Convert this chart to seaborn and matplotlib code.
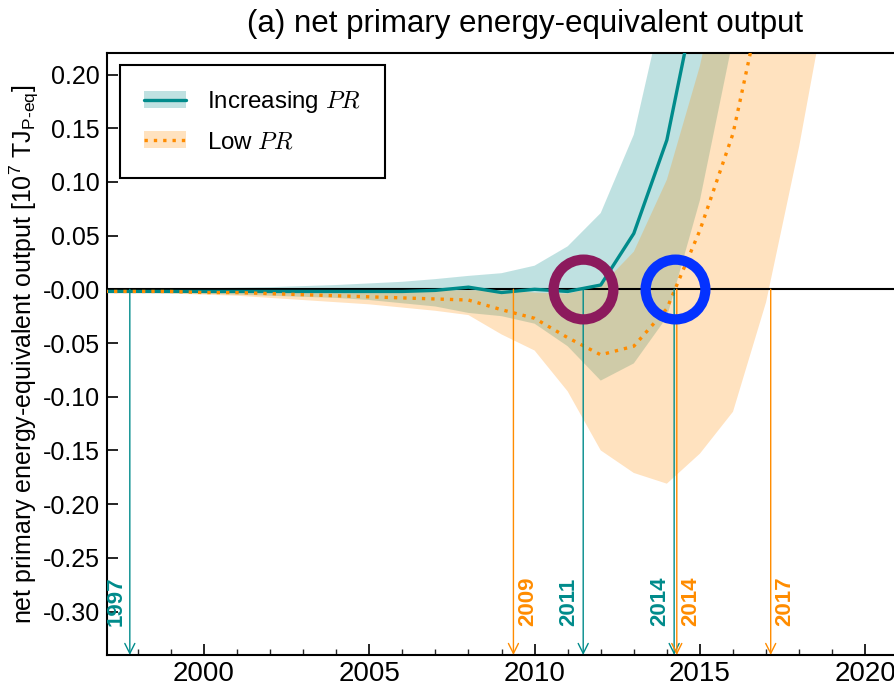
import numpy as np
import pandas as pd
import matplotlib
matplotlib.use("Agg")
import matplotlib.pyplot as plt
from matplotlib.patches import Patch, FancyArrowPatch
from matplotlib.lines import Line2D
from matplotlib.font_manager import FontProperties
import seaborn as sns

# ---- data -------------------------------------------------------------
years = list(range(1997, 2020))

# "Increasing PR" scenario: median and uncertainty band (10^7 TJ_P-eq)
inc_mid = [-0.002, -0.002, -0.002, -0.002, -0.002, -0.002, -0.002, -0.002,
           -0.002, -0.002, -0.001, 0.002, -0.003, 0.000, -0.002, 0.004,
           0.052, 0.139, 0.290, 0.450, 0.620, 0.800, 1.000]
inc_low = [-0.003, -0.003, -0.003, -0.004, -0.005, -0.006, -0.007, -0.008,
           -0.010, -0.013, -0.016, -0.022, -0.025, -0.032, -0.053, -0.085,
           -0.069, -0.026, 0.083, 0.233, 0.400, 0.600, 0.800]
inc_high = [0.000, 0.000, 0.0005, 0.001, 0.0015, 0.002, 0.003, 0.004,
            0.0055, 0.007, 0.0095, 0.0125, 0.015, 0.022, 0.040, 0.071,
            0.144, 0.279, 0.450, 0.650, 0.850, 1.050, 1.250]

# "Low PR" scenario: median and uncertainty band
low_mid = [-0.002, -0.002, -0.002, -0.003, -0.003, -0.004, -0.005, -0.006,
           -0.007, -0.008, -0.009, -0.010, -0.019, -0.027, -0.045, -0.061,
           -0.053, -0.018, 0.055, 0.145, 0.288, 0.450, 0.620]
low_low = [-0.003, -0.003, -0.004, -0.005, -0.006, -0.008, -0.010, -0.012,
           -0.014, -0.017, -0.020, -0.024, -0.042, -0.057, -0.095, -0.150,
           -0.171, -0.181, -0.153, -0.114, -0.012, 0.133, 0.300]
low_high = [-0.001, -0.001, -0.001, -0.001, -0.001, -0.001, -0.001, -0.001,
            -0.001, -0.001, -0.001, -0.001, -0.001, -0.003, -0.004, 0.003,
            0.035, 0.102, 0.208, 0.350, 0.500, 0.700, 0.900]

# break-even years (label, position of the crossing, scenario)
marker_labels = ["1997", "2011", "2014", "2009", "2014", "2017"]
marker_years = [1997.76, 2011.47, 2014.22, 2009.36, 2014.30, 2017.14]
marker_series = ["inc", "inc", "inc", "low", "low", "low"]

# highlighted break-even points
circle_years = [2011.47, 2014.26]
circle_colors = ["#8c1a5d", "#0432ff"]

ytick_values = [0.20, 0.15, 0.10, 0.05, 0.00, -0.05, -0.10, -0.15, -0.20, -0.25, -0.30]
ytick_labels = ["0.20", "0.15", "0.10", "0.05", "-0.00", "-0.05", "-0.10",
                "-0.15", "-0.20", "-0.25", "-0.30"]
xtick_values = [2000, 2005, 2010, 2015, 2020]

TEAL = "#008b8b"
ORANGE = "#ff8c00"

# ---- style ------------------------------------------------------------
sns.set_theme(style="ticks")
plt.rcParams["font.family"] = ["Liberation Sans", "DejaVu Sans"]
plt.rcParams["mathtext.fontset"] = "custom"
plt.rcParams["mathtext.rm"] = "Liberation Sans"
plt.rcParams["mathtext.it"] = "Liberation Sans:italic"
plt.rcParams["text.color"] = "black"
plt.rcParams["axes.labelcolor"] = "black"

fig = plt.figure(figsize=(8.95, 6.85), dpi=100)
W, H = 895, 685
ax_left, ax_right, ax_top, ax_bot = 107, 943, 52.7, 655
ax = fig.add_axes([ax_left / W, 1 - ax_bot / H,
                   (ax_right - ax_left) / W, (ax_bot - ax_top) / H])

ymin, ymax = -0.3405, 0.2203
ax.set_xlim(1997.07, 2022.35)
ax.set_ylim(ymin, ymax)

# uncertainty bands
ax.fill_between(years, inc_low, inc_high, color=TEAL, alpha=0.25, lw=0, zorder=1)
ax.fill_between(years, low_low, low_high, color=ORANGE, alpha=0.25, lw=0, zorder=1)

ax.axhline(0, color="black", lw=1.5, zorder=2)

# medians
sns.lineplot(x=years, y=inc_mid, color=TEAL, lw=2.4, ax=ax, zorder=3)
sns.lineplot(x=years, y=low_mid, color=ORANGE, lw=2.4, ax=ax, zorder=3,
             linestyle=(0, (1, 1.8)))

# break-even arrows with year labels
for lab, yr, ser in zip(marker_labels, marker_years, marker_series):
    col = TEAL if ser == "inc" else ORANGE
    arr = FancyArrowPatch((yr, 0), (yr, ymin), arrowstyle="->,head_length=0.36,head_width=0.18",
                          mutation_scale=20, color=col, lw=1.0, shrinkA=0, shrinkB=0,
                          zorder=4)
    ax.add_patch(arr)
    dx = -2.5 if ser == "inc" else 2.5
    ax.annotate(lab, xy=(yr, -0.3135), xytext=(dx, 0), textcoords="offset points",
                rotation=90, ha="right" if ser == "inc" else "left", va="bottom",
                color=col, fontsize=16, fontweight="bold", zorder=5)

# highlighted points
for yr, col in zip(circle_years, circle_colors):
    ax.plot([yr], [0], marker="o", ms=43, mfc="none", mec=col, mew=7.4,
            ls="none", zorder=6)

# axes styling
for side in ["left", "bottom", "top"]:
    ax.spines[side].set_linewidth(1.5)
    ax.spines[side].set_color("black")
ax.spines["right"].set_visible(False)
ax.set_xticks(xtick_values)
ax.set_xticks(np.arange(1998, 2023), minor=True)
ax.set_yticks(ytick_values, ytick_labels)
ax.tick_params(axis="both", which="major", direction="in", length=8, width=1.2,
               color="black", labelcolor="black")
ax.tick_params(axis="y", labelsize=18, pad=5)
ax.tick_params(axis="x", which="minor", direction="in", length=4, width=1.0)
ax.tick_params(axis="x", pad=4)
ax.tick_params(top=False, right=False, which="both")
for t in ax.get_xticklabels():
    t.set_fontfamily(["Liberation Sans Narrow", "Liberation Sans"])
    t.set_fontsize(20)
ax.set_xlabel("")
ax.set_ylabel(r"net primary energy-equivalent output [10$^{7}$ TJ$_{\text{P-eq}}$]",
              fontsize=18, labelpad=1, color="black")

fig.text(525 / W, 1 - 24 / H, "(a) net primary energy-equivalent output",
         ha="center", va="center", fontsize=22.5, color="black")

# legend
legprop = FontProperties(family=["Liberation Sans", "DejaVu Sans"], size=17.4,
                         math_fontfamily="cm")
h_inc = (Patch(facecolor=TEAL, alpha=0.25, lw=0), Line2D([], [], color=TEAL, lw=2.4))
h_low = (Patch(facecolor=ORANGE, alpha=0.25, lw=0),
         Line2D([], [], color=ORANGE, lw=2.4, ls=(0, (1, 1.8))))
leg = ax.legend([h_inc, h_low], [r"Increasing $PR$", r"Low $PR$"], prop=legprop,
                loc="upper left", bbox_to_anchor=(120 / W, 1 - 65 / H),
                bbox_transform=fig.transFigure, borderaxespad=0, borderpad=1.0,
                labelspacing=0.67, handlelength=1.75, handletextpad=0.85,
                fancybox=False, framealpha=1, edgecolor="black")
leg.get_frame().set_linewidth(1.5)
leg.set_zorder(10)
for txt in leg.get_texts():
    txt.set_color("black")

fig.savefig("out.png", dpi=100)
